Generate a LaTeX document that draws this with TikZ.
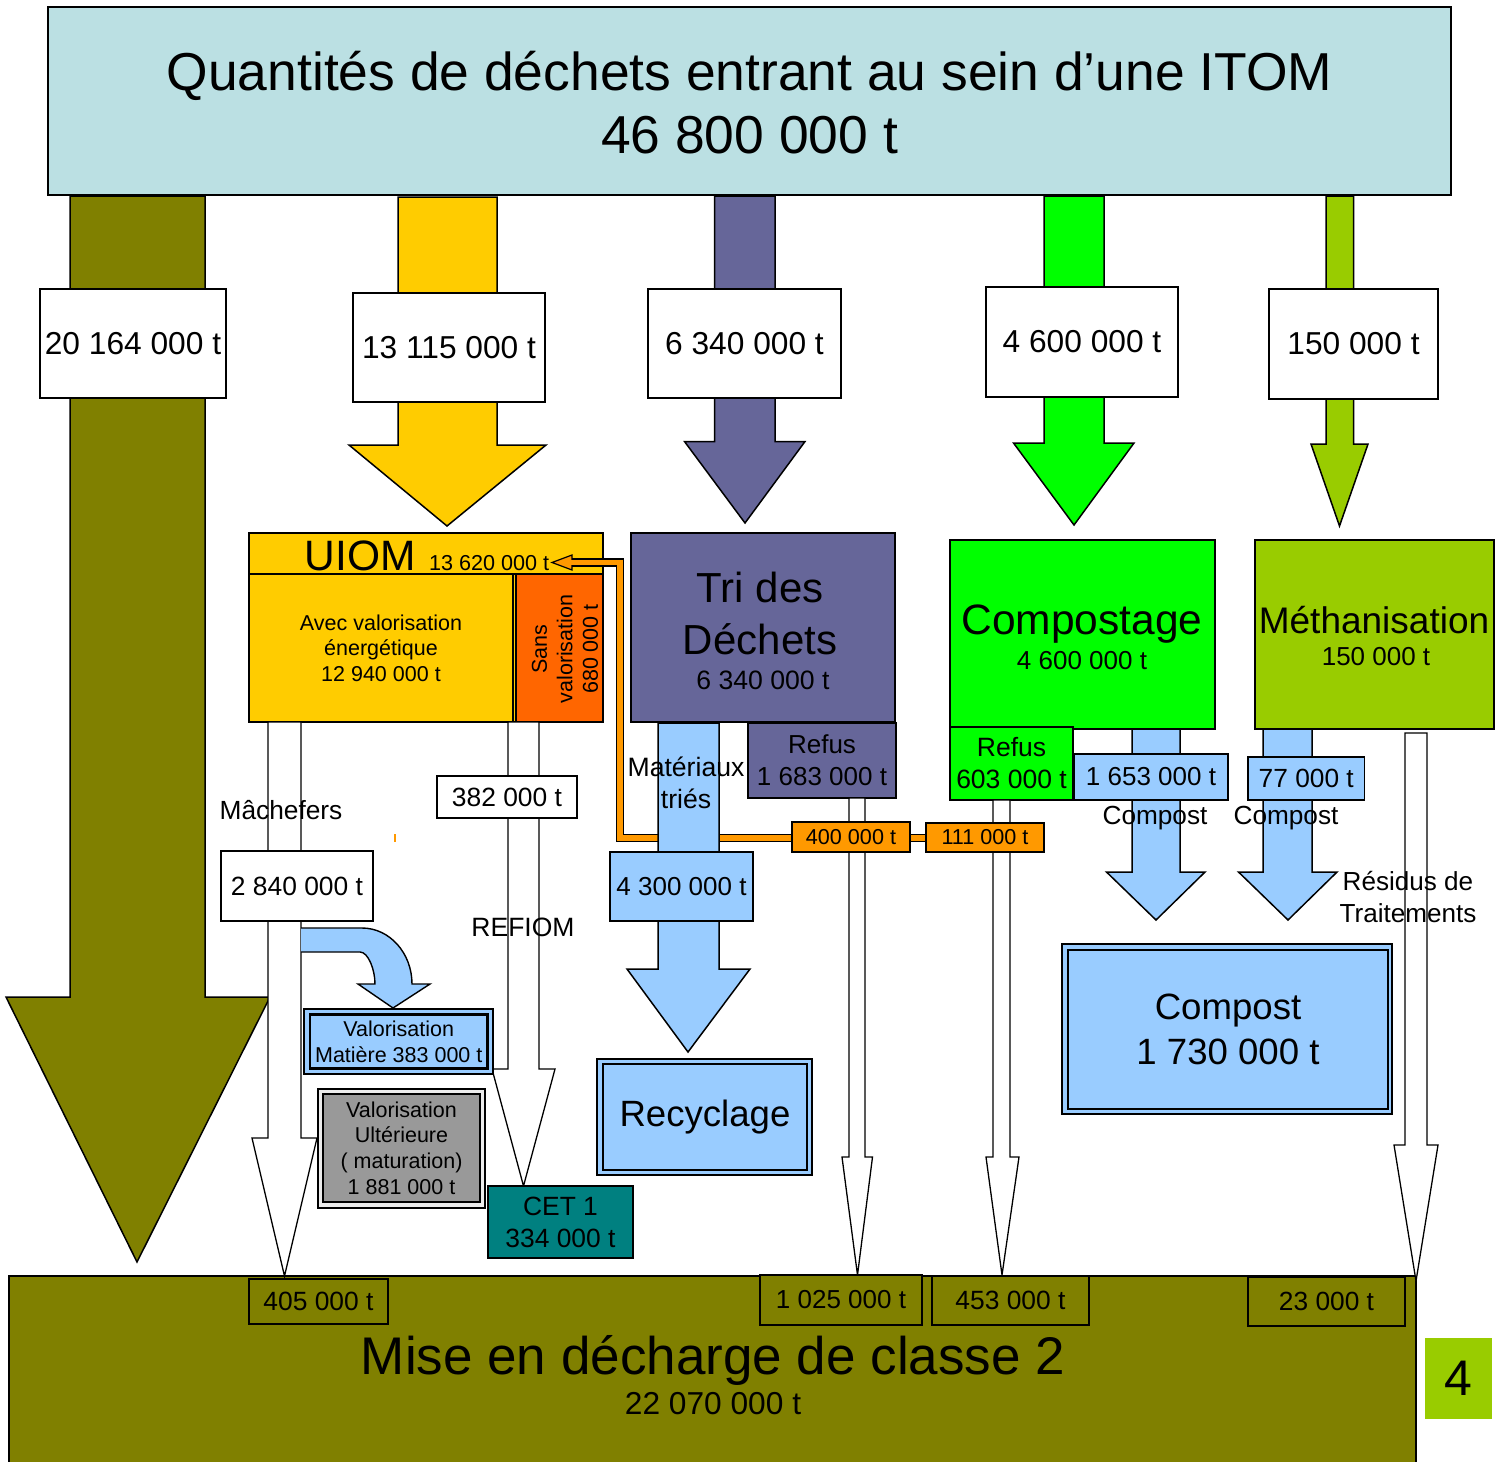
\documentclass[tikz,border=0pt]{standalone}
\usepackage{fontspec}
\setmainfont{Liberation Sans}
\definecolor{topc}{RGB}{187,224,227}
\definecolor{olivec}{RGB}{128,128,0}
\definecolor{yelc}{RGB}{255,204,0}
\definecolor{purpc}{RGB}{102,102,153}
\definecolor{grnc}{RGB}{0,255,0}
\definecolor{lgrnc}{RGB}{153,204,0}
\definecolor{orgA}{RGB}{255,102,0}
\definecolor{orgB}{RGB}{255,153,0}
\definecolor{lbluec}{RGB}{153,204,255}
\definecolor{gryc}{RGB}{153,153,153}
\definecolor{tealcc}{RGB}{0,128,128}
\newcommand\fz[2]{\fontsize{#1pt}{#2pt}\selectfont}
% box: name, x1, y1, x2, y2, style, text
\newcommand\bx[7]{%
  \pgfmathsetmacro\bxw{#4-#2}\pgfmathsetmacro\bxh{#5-#3}%
  \pgfmathsetmacro\bxcx{(#2+#4)/2}\pgfmathsetmacro\bxcy{(#3+#5)/2}%
  \node[boxst,#6,minimum width=\bxw pt,minimum height=\bxh pt] (#1) at (\bxcx,\bxcy) {#7};}
% block arrow: shaft x1,x2, top y, head base y, head x1,x2, tip x,y, style
\newcommand\barr[9]{%
  \filldraw[arrst,#9] (#1,#3) -- (#1,#4) -- (#5,#4) -- (#7,#8) -- (#6,#4) -- (#2,#4) -- (#2,#3) -- cycle;}
\begin{document}
\begin{tikzpicture}[x=1pt,y=-1pt,line join=miter]
\tikzset{
  boxst/.style={draw=black,line width=1.6pt,rectangle,inner sep=0pt,outer sep=0pt,align=center},
  arrst/.style={draw=black,line width=1.5pt},
  thinarr/.style={draw=black,line width=1.3pt,fill=white},
  lbl/.style={inner sep=0pt,outer sep=0pt,align=center},
}
\useasboundingbox (0,0) rectangle (1506,1461);
\fill[white] (0,0) rectangle (1506,1461);

% ---------- top box ----------
\bx{top}{48}{7}{1451}{195}{fill=topc}{}
\node[lbl,font=\fz{53.4}{63}] (title) at (749.5,103) {Quantités de déchets entrant au sein d’une ITOM\\46 800 000 t};

% ---------- big arrows ----------
\barr{70}{205}{196}{997}{6}{270}{137}{1262}{fill=olivec}
\barr{398}{497}{197}{445}{349}{546}{447}{526}{fill=yelc}
\barr{714.5}{775}{196}{441.5}{684.5}{805}{745}{523}{fill=purpc}
\barr{1044}{1104}{196}{443}{1013.5}{1134}{1074}{525}{fill=grnc}
\barr{1326}{1353.5}{196}{444}{1311}{1368}{1339.5}{526}{fill=lgrnc}

\bx{q1}{40}{289}{226}{398}{fill=white,font=\fz{31.7}{38}}{20 164 000 t}
\bx{q2}{353}{293}{545}{402}{fill=white,font=\fz{31.7}{38}}{13 115 000 t}
\bx{q3}{648}{289}{841}{398}{fill=white,font=\fz{31.7}{38}}{6 340 000 t}
\bx{q4}{986}{287}{1178}{397}{fill=white,font=\fz{31.7}{38}}{4 600 000 t}
\bx{q5}{1269}{289}{1438}{399}{fill=white,font=\fz{31.7}{38}}{150 000 t}

% ---------- UIOM ----------
\bx{uiomtop}{249}{533}{603}{574}{fill=yelc}{}
\bx{uiomall}{249}{574}{603}{722}{fill=yelc}{}
\bx{uiomA}{249}{574}{513}{722}{fill=yelc,font=\fz{21.5}{25.5}}{Avec valorisation\\énergétique\\12 940 000 t}
\bx{uiomB}{516}{574}{603}{722}{fill=orgA}{}
\node[lbl,rotate=90,font=\fz{21.5}{25.5}] (sansT) at (565,649) {Sans\\valorisation\\680 000 t};
\node[lbl,font=\fz{42.5}{50},anchor=base] (uiomT) at (360,570) {UIOM};
\node[lbl,font=\fz{21.6}{26},anchor=base west] (uiomN) at (429,570) {13 620 000 t};

% ---------- Tri ----------
\bx{tri}{631}{533}{895}{722}{fill=purpc}{}
\node[lbl,font=\fz{42}{52}] (triT) at (760,613) {Tri des\\Déchets};
\node[lbl,font=\fz{26.6}{32}] (triN) at (763,680) {6 340 000 t};
\bx{refusP}{748}{723}{896}{798}{fill=purpc,font=\fz{26}{32}}{Refus\\1 683 000 t}

% ---------- Compostage / Methanisation ----------
\bx{comp}{950}{540}{1215}{729}{fill=grnc}{}
\node[lbl,font=\fz{42.5}{50}] (compT) at (1082,624) {Compostage};
\node[lbl,font=\fz{26}{31}] (compN) at (1082,661) {4 600 000 t};
\bx{meth}{1255}{540}{1494}{729}{fill=lgrnc}{}
\node[lbl,font=\fz{37}{44}] (methT) at (1374,620) {Méthanisation};
\node[lbl,font=\fz{26}{31}] (methN) at (1376,657) {150 000 t};
\bx{refusG}{950}{727}{1073}{800}{fill=grnc,font=\fz{26.5}{32}}{Refus\\603 000 t}

% ---------- bottom box ----------
\bx{mise}{9}{1276}{1416}{1475}{fill=olivec}{}
\node[lbl,font=\fz{53}{60}] (miseT) at (713,1360) {Mise en décharge de classe 2};
\node[lbl,font=\fz{31.7}{38}] (miseN) at (713,1404) {22 070 000 t};

% ---------- thin white arrows ----------
\barr{268}{301}{722}{1138}{252}{317}{284.5}{1276}{thinarr}
\barr{508}{539}{722}{1069}{492}{555}{523.5}{1186}{thinarr}
\barr{849}{865}{798}{1157}{842}{872.5}{857.5}{1275}{thinarr}
\barr{993}{1010}{800}{1157}{986}{1019}{1002}{1275}{thinarr}
\barr{1405}{1427}{733}{1145}{1394}{1438}{1416}{1281}{thinarr}

% ---------- orange pipe ----------
\coordinate (p111) at (926,838);
\coordinate (pipeEnd) at (572,562.5);
\filldraw[fill=orgB,draw=black,line width=1.2pt] (572,555) -- (552,562.5) -- (572,570) -- cycle;
\draw[line width=8.5pt,black] (p111) -- (620,838) -- (620,562.5) -- (pipeEnd);
\draw[line width=5.5pt,orgB] (p111) -- (620,838) -- (620,562.5) -- (567,562.5);

% ---------- materiaux tries ----------
\barr{658}{719}{723}{969}{627}{750}{688}{1052}{fill=lbluec}
\bx{m43}{610}{852}{753}{921}{fill=lbluec,font=\fz{26}{31}}{4 300 000 t}
\node[lbl,font=\fz{26.6}{32}] (matT) at (686,783) {Matériaux\\triés};

\bx{n400}{792}{822}{910}{852}{fill=orgB,font=\fz{21.6}{26}}{400 000 t}
\bx{n111}{926}{823}{1044}{852}{fill=orgB,font=\fz{21.6}{26}}{111 000 t}

% ---------- UIOM outputs ----------
\bx{n382}{437}{776}{577}{818}{fill=white,font=\fz{26.4}{31}}{382 000 t}
\bx{n284}{221}{851}{373}{921}{fill=white,font=\fz{26.4}{31}}{2 840 000 t}
\node[lbl,font=\fz{26.3}{31}] (mach) at (281,810) {Mâchefers};
\node[lbl,font=\fz{26.5}{31}] (refiom) at (523,927) {REFIOM};
\fill[orgB] (393.5,834) rectangle (395.5,842);

% curved arrow to valorisation matiere
\filldraw[fill=lbluec,draw=black,line width=1.4pt] (301,928) -- (362,928) .. controls (389.5,928) and (412,953) .. (412,984) -- (430,984) -- (393,1008) -- (358,984) -- (375,984) .. controls (375,969.6) and (368.2,952) .. (360,952) -- (301,952);

\bx{vmO}{304}{1009}{493}{1074}{fill=lbluec,line width=1.2pt}{}
\bx{vmI}{310}{1014.5}{487.5}{1068.5}{fill=lbluec,line width=2.6pt,font=\fz{21.5}{26}}{Valorisation\\Matière 383 000 t}

\bx{vuO}{318}{1089}{485}{1208}{fill=gray!15,line width=1.2pt}{}
\bx{vuI}{323}{1094}{480}{1202}{fill=gryc,line width=2.8pt,font=\fz{21.5}{25.7}}{Valorisation\\Ultérieure\\( maturation)\\1 881 000 t}

\bx{cet}{488}{1186}{633}{1258}{fill=tealcc,font=\fz{26.4}{32}}{CET 1\\334 000 t}

% recyclage
\bx{recO}{597}{1059}{812}{1175}{fill=lbluec,line width=1.2pt}{}
\bx{recI}{603}{1064}{807}{1170}{fill=lbluec,line width=2.6pt,font=\fz{36.6}{44}}{Recyclage}

% ---------- compost arrows ----------
\barr{1132}{1180}{729}{872}{1106.5}{1205}{1156}{920}{fill=lbluec}
\barr{1263}{1312}{729}{872}{1238.5}{1337}{1288}{920}{fill=lbluec}
\bx{c1653}{1074}{754}{1228}{800}{fill=lbluec,font=\fz{26}{31}}{1 653 000 t}
\bx{c77}{1248}{757}{1364.5}{800}{fill=lbluec,font=\fz{26.3}{31}}{77 000 t}
\node[lbl,font=\fz{26.2}{31}] (compL1) at (1155,818) {Compost};
\node[lbl,font=\fz{26.2}{31}] (compL2) at (1286,818) {Compost};
\node[lbl,font=\fz{26.1}{32}] (resid) at (1408,897) {Résidus de\\Traitements};

\bx{cbO}{1062}{944}{1392}{1114}{fill=lbluec,line width=1.2pt}{}
\bx{cbI}{1068}{950}{1388}{1109}{fill=lbluec,line width=2.6pt,font=\fz{36.6}{45}}{Compost\\1 730 000 t}

% ---------- bottom labels ----------
\bx{b405}{249}{1279}{388}{1324}{fill=olivec,font=\fz{26.4}{31}}{405 000 t}
\bx{b1025}{760}{1275}{922}{1325}{fill=olivec,font=\fz{26}{31}}{1 025 000 t}
\bx{b453}{932}{1276}{1089}{1325}{fill=olivec,font=\fz{26.4}{31}}{453 000 t}
\bx{b23}{1248}{1277}{1405}{1326}{fill=olivec,font=\fz{26.3}{31}}{23 000 t}

\node[fill=lgrnc,inner sep=0pt,minimum width=67pt,minimum height=81pt,font=\fz{50}{60}] (four) at (1458.5,1378.5) {4};
\end{tikzpicture}
\end{document}
